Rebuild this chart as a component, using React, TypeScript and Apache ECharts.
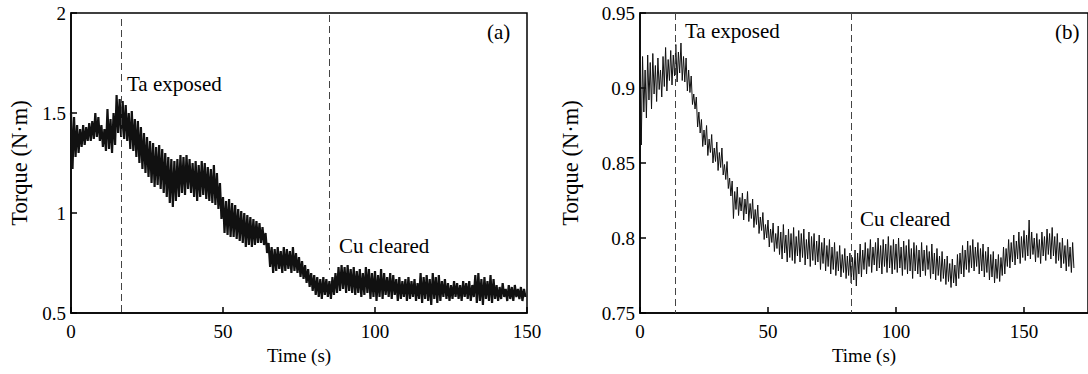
import React, { useEffect, useRef } from "react";
import * as echarts from "echarts";

// Panel (a): per-second peak / trough of the torque trace (N·m)
const aHigh = [
  1.50, 1.48, 1.44, 1.42, 1.44, 1.43, 1.45, 1.46, 1.50, 1.48,
  1.44, 1.42, 1.52, 1.47, 1.50, 1.59, 1.57, 1.56, 1.54, 1.50,
  1.51, 1.47, 1.46, 1.43, 1.40, 1.38, 1.36, 1.35, 1.33, 1.34,
  1.32, 1.30, 1.28, 1.27, 1.26, 1.27, 1.29, 1.28, 1.29, 1.27,
  1.25, 1.26, 1.24, 1.26, 1.25, 1.23, 1.22, 1.24, 1.20, 1.15,
  1.08, 1.06, 1.07, 1.05, 1.04, 1.02, 1.01, 1.00, 0.99, 0.98,
  0.97, 0.96, 0.95, 0.93, 0.90, 0.85, 0.83, 0.82, 0.83, 0.81,
  0.83, 0.82, 0.81, 0.83, 0.80, 0.78, 0.76, 0.74, 0.72, 0.70,
  0.69, 0.68, 0.67, 0.68, 0.67, 0.66, 0.68, 0.70, 0.73, 0.74,
  0.73, 0.74, 0.72, 0.73, 0.71, 0.72, 0.70, 0.73, 0.72, 0.70,
  0.71, 0.69, 0.72, 0.70, 0.68, 0.70, 0.69, 0.67, 0.68, 0.66,
  0.67, 0.68, 0.66, 0.67, 0.65, 0.70, 0.68, 0.69, 0.67, 0.70,
  0.68, 0.69, 0.66, 0.67, 0.65, 0.64, 0.66, 0.65, 0.64, 0.66,
  0.65, 0.66, 0.64, 0.69, 0.70, 0.67, 0.68, 0.66, 0.69, 0.67,
  0.64, 0.63, 0.65, 0.62, 0.64, 0.63, 0.64, 0.62, 0.63, 0.62,
];
const aLow = [
  1.22, 1.28, 1.30, 1.33, 1.34, 1.36, 1.36, 1.37, 1.38, 1.36,
  1.33, 1.31, 1.32, 1.30, 1.34, 1.40, 1.38, 1.37, 1.36, 1.32,
  1.31, 1.28, 1.25, 1.22, 1.20, 1.18, 1.15, 1.13, 1.14, 1.12,
  1.10, 1.08, 1.05, 1.03, 1.06, 1.08, 1.10, 1.09, 1.12, 1.10,
  1.08, 1.06, 1.08, 1.09, 1.07, 1.06, 1.05, 1.04, 1.02, 0.97,
  0.90, 0.89, 0.88, 0.88, 0.87, 0.86, 0.85, 0.83, 0.84, 0.83,
  0.84, 0.85, 0.85, 0.84, 0.80, 0.73, 0.70, 0.71, 0.72, 0.70,
  0.71, 0.72, 0.70, 0.71, 0.70, 0.68, 0.67, 0.65, 0.63, 0.61,
  0.59, 0.58, 0.57, 0.59, 0.58, 0.57, 0.59, 0.60, 0.61, 0.62,
  0.60, 0.61, 0.60, 0.59, 0.60, 0.58, 0.59, 0.60, 0.57, 0.58,
  0.56, 0.58, 0.57, 0.59, 0.58, 0.57, 0.59, 0.56, 0.57, 0.58,
  0.56, 0.57, 0.58, 0.56, 0.57, 0.55, 0.57, 0.56, 0.54, 0.57,
  0.55, 0.56, 0.58, 0.57, 0.56, 0.57, 0.58, 0.57, 0.56, 0.58,
  0.57, 0.56, 0.58, 0.55, 0.56, 0.54, 0.57, 0.56, 0.55, 0.57,
  0.56, 0.57, 0.58, 0.56, 0.57, 0.56, 0.58, 0.57, 0.56, 0.58,
];

// Panel (b): per-second peak / trough of the torque trace (N·m)
const bHigh = [
  0.942, 0.921, 0.912, 0.922, 0.917, 0.923, 0.915, 0.920, 0.912, 0.921,
  0.927, 0.919, 0.925, 0.922, 0.929, 0.924, 0.930, 0.921, 0.920, 0.912,
  0.908, 0.896, 0.894, 0.884, 0.879, 0.872, 0.875, 0.866, 0.869, 0.860,
  0.864, 0.857, 0.860, 0.849, 0.851, 0.840, 0.838, 0.831, 0.834, 0.827,
  0.830, 0.826, 0.831, 0.823, 0.826, 0.819, 0.822, 0.814, 0.817, 0.809,
  0.812, 0.806, 0.810, 0.803, 0.808, 0.804, 0.809, 0.802, 0.806, 0.803,
  0.807, 0.801, 0.805, 0.803, 0.806, 0.799, 0.804, 0.801, 0.803, 0.798,
  0.802, 0.797, 0.800, 0.795, 0.799, 0.794, 0.797, 0.791, 0.795, 0.789,
  0.793, 0.788, 0.790, 0.787, 0.792, 0.790, 0.796, 0.792, 0.797, 0.793,
  0.799, 0.794, 0.797, 0.800, 0.795, 0.799, 0.796, 0.801, 0.795, 0.799,
  0.796, 0.800, 0.794, 0.798, 0.795, 0.799, 0.793, 0.797, 0.795, 0.792,
  0.797, 0.792, 0.795, 0.791, 0.796, 0.790, 0.793, 0.788, 0.791, 0.786,
  0.788, 0.783, 0.786, 0.782, 0.789, 0.790, 0.795, 0.792, 0.798, 0.795,
  0.799, 0.794, 0.797, 0.793, 0.796, 0.791, 0.794, 0.789, 0.791, 0.786,
  0.789, 0.787, 0.794, 0.793, 0.799, 0.797, 0.802, 0.798, 0.804, 0.801,
  0.805, 0.802, 0.812, 0.804, 0.800, 0.803, 0.799, 0.804, 0.801, 0.806,
  0.803, 0.807, 0.801, 0.803, 0.797, 0.800, 0.795, 0.799, 0.794, 0.797,
];
const bLow = [
  0.862, 0.884, 0.880, 0.892, 0.886, 0.896, 0.891, 0.899, 0.894, 0.901,
  0.898, 0.905, 0.902, 0.908, 0.904, 0.910, 0.905, 0.904, 0.898, 0.897,
  0.889, 0.886, 0.874, 0.870, 0.861, 0.862, 0.855, 0.857, 0.850, 0.851,
  0.845, 0.847, 0.842, 0.839, 0.833, 0.828, 0.813, 0.819, 0.815, 0.818,
  0.812, 0.816, 0.811, 0.813, 0.807, 0.809, 0.803, 0.805, 0.799, 0.800,
  0.794, 0.797, 0.791, 0.793, 0.789, 0.786, 0.790, 0.784, 0.787, 0.785,
  0.783, 0.788, 0.784, 0.787, 0.782, 0.786, 0.781, 0.785, 0.782, 0.784,
  0.779, 0.783, 0.778, 0.781, 0.776, 0.779, 0.775, 0.778, 0.774, 0.777,
  0.773, 0.775, 0.770, 0.772, 0.768, 0.776, 0.774, 0.779, 0.776, 0.781,
  0.777, 0.782, 0.778, 0.780, 0.776, 0.781, 0.777, 0.780, 0.776, 0.779,
  0.777, 0.780, 0.775, 0.779, 0.776, 0.778, 0.773, 0.778, 0.776, 0.774,
  0.778, 0.775, 0.779, 0.773, 0.776, 0.772, 0.775, 0.771, 0.773, 0.769,
  0.771, 0.767, 0.770, 0.768, 0.773, 0.776, 0.774, 0.779, 0.777, 0.780,
  0.778, 0.781, 0.776, 0.778, 0.774, 0.777, 0.772, 0.774, 0.770, 0.773,
  0.771, 0.775, 0.776, 0.781, 0.780, 0.784, 0.782, 0.786, 0.783, 0.787,
  0.785, 0.788, 0.786, 0.789, 0.784, 0.787, 0.783, 0.788, 0.785, 0.789,
  0.786, 0.788, 0.783, 0.785, 0.780, 0.783, 0.778, 0.781, 0.777, 0.780,
];

// Event markers (time in s)
const aTaExposed = 16.4;
const aCuCleared = 84.8;
const bTaExposed = 13.7;
const bCuCleared = 82.7;

const FONT = "Liberation Serif";

function interleave(high: number[], low: number[]) {
  const out: number[][] = [];
  for (let i = 0; i < high.length; i++) {
    out.push([i, high[i]]);
    out.push([i + 0.5, low[i]]);
  }
  return out;
}

function xAxisCfg(gridIndex: number, max: number) {
  return {
    gridIndex,
    type: "value",
    min: 0,
    max,
    interval: 50,
    name: "Time (s)",
    nameLocation: "middle",
    nameGap: 32,
    nameTextStyle: { fontFamily: FONT, fontSize: 19, color: "#000" },
    axisLine: { show: true, lineStyle: { color: "#000", width: 1.5 } },
    axisTick: { show: true, inside: true, length: 6, lineStyle: { color: "#000", width: 1.5 } },
    axisLabel: { margin: 9, fontFamily: FONT, fontSize: 19, color: "#000", showMaxLabel: max === 150 },
    splitLine: { show: false },
  };
}

function yAxisCfg(gridIndex: number, min: number, max: number, interval: number, nameGap: number) {
  return {
    gridIndex,
    type: "value",
    min,
    max,
    interval,
    name: "Torque (N·m)",
    nameLocation: "middle",
    nameRotate: 90,
    nameGap,
    nameTextStyle: { fontFamily: FONT, fontSize: 22.5, color: "#000" },
    axisLine: { show: true, lineStyle: { color: "#000", width: 1.5 } },
    axisTick: { show: true, inside: true, length: 6, lineStyle: { color: "#000", width: 1.5 } },
    axisLabel: {
      margin: 5,
      fontFamily: FONT,
      fontSize: 19,
      color: "#000",
      formatter: (v: number) => String(parseFloat(v.toFixed(2))),
    },
    splitLine: { show: false },
  };
}

const dashStyle = { type: [7, 4], color: "#444", width: 1 };

function txt(left: number, top: number, s: string) {
  return {
    type: "text",
    left,
    top,
    style: { text: s, fontFamily: FONT, fontSize: 21, fill: "#000" },
  };
}

export default function App() {
  const ref = useRef<HTMLDivElement>(null);
  useEffect(() => {
    document.body.style.margin = "0";
    if (!ref.current) return;
    const chart = echarts.init(ref.current, undefined, { renderer: "svg" });
    chart.setOption({
      animation: false,
      backgroundColor: "#fff",
      grid: [
        { left: 71, top: 13, width: 456, height: 300, show: true, borderColor: "#000", borderWidth: 1.5 },
        { left: 640, top: 13, width: 455, height: 300, show: true, borderColor: "#000", borderWidth: 1.5 },
      ],
      xAxis: [xAxisCfg(0, 150), xAxisCfg(1, 175)],
      yAxis: [yAxisCfg(0, 0.5, 2, 0.5, 40), yAxisCfg(1, 0.75, 0.95, 0.05, 58)],
      series: [
        {
          type: "line",
          xAxisIndex: 0,
          yAxisIndex: 0,
          data: interleave(aHigh, aLow),
          showSymbol: false,
          lineStyle: { color: "#111", width: 2.2 },
          markLine: {
            silent: true,
            symbol: ["none", "none"],
            lineStyle: dashStyle,
            label: { show: false },
            data: [
              [{ coord: [aTaExposed, 1.97] }, { coord: [aTaExposed, 0.5] }],
              [{ coord: [aCuCleared, 1.99] }, { coord: [aCuCleared, 0.715] }],
            ],
          },
        },
        {
          type: "line",
          xAxisIndex: 1,
          yAxisIndex: 1,
          data: interleave(bHigh, bLow),
          showSymbol: false,
          lineStyle: { color: "#111", width: 1 },
          markLine: {
            silent: true,
            symbol: ["none", "none"],
            lineStyle: dashStyle,
            label: { show: false },
            data: [
              [{ coord: [bTaExposed, 0.95] }, { coord: [bTaExposed, 0.75] }],
              [{ coord: [bCuCleared, 0.95] }, { coord: [bCuCleared, 0.75] }],
            ],
          },
        },
      ],
      graphic: [
        txt(127, 73, "Ta exposed"),
        txt(339, 235, "Cu cleared"),
        txt(487, 21, "(a)"),
        txt(685, 20, "Ta exposed"),
        txt(860, 208, "Cu cleared"),
        txt(1055, 21, "(b)"),
      ],
    });
    return () => chart.dispose();
  }, []);
  return <div ref={ref} style={{ width: 1088, height: 374 }} />;
}
